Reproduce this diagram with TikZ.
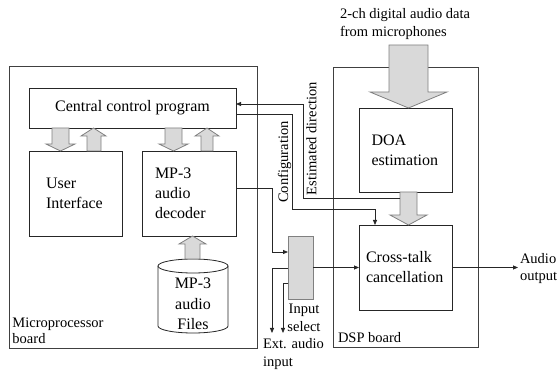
\documentclass[tikz,border=0pt]{standalone}
\usepackage{fontspec}
\setmainfont{Liberation Serif}
\usetikzlibrary{arrows.meta}
\begin{document}
\begin{tikzpicture}[x=1pt,y=-1pt,
  box/.style={draw=black!85, line width=0.8pt, fill=white, inner sep=0pt, outer sep=0pt, anchor=north west, font=\fontsize{16}{20}\selectfont},
  board/.style={draw=black!75, line width=0.8pt, inner sep=0pt, outer sep=0pt, anchor=north west},
  lbl/.style={inner sep=0pt, outer sep=0pt, font=\fontsize{14.5}{18}\selectfont},
  blk/.style={draw=black!50, fill=black!15, line width=0.8pt, line join=miter},
  conn/.style={draw=black!85, line width=0.8pt},
  arr/.style={conn, -{Triangle[length=5pt,width=4pt]}},
]
\useasboundingbox (0,0) rectangle (557,371);

% boards
\node[board, minimum width=248pt, minimum height=282pt] (mpb) at (9,66) {};
\node[board, minimum width=145pt, minimum height=280pt] (dsp) at (333,67) {};

% boxes
\node[box, minimum width=207pt, minimum height=40pt] (ccp) at (29,88) {Central control program};
\node[box, minimum width=93pt, minimum height=85pt, inner xsep=17pt, text width=59pt, align=left] (ui) at (29,151) {User\\Interface};
\node[box, minimum width=94pt, minimum height=85pt, inner xsep=13pt, text width=68pt, align=left] (dec) at (142,151) {MP-3\\audio\\decoder};
\node[box, minimum width=93pt, minimum height=84pt, inner xsep=12.5pt, text width=68pt, align=left] (doa) at (359,108) {DOA\\estimation};
\node[box, minimum width=93pt, minimum height=85pt, inner xsep=7pt, text width=79pt, align=left] (ctc) at (359,225) {Cross-talk\\cancellation};
\node[blk, anchor=north west, inner sep=0pt, outer sep=0pt, minimum width=25pt, minimum height=63pt] (insel) at (288,236) {};

% cylinder of files
\draw[draw=black!85, line width=0.8pt, fill=white] (158,266) -- (158,326) arc[start angle=180, end angle=360, x radius=35pt, y radius=7pt] -- (228,266);
\draw[draw=black!85, line width=0.8pt, fill=white] (193,266) ellipse [x radius=35pt, y radius=7pt];
\node[inner sep=0pt, align=center, font=\fontsize{16}{20.5}\selectfont] (files) at (193,304) {MP-3\\audio\\Files};
\coordinate (filestop) at (193,259);

% block arrows
\draw[blk] (52,128) -- (69,128) -- (69,144) -- (75,144) -- (60.5,151) -- (46,144) -- (52,144) -- cycle;
\draw[blk] (87,151) -- (101,151) -- (101,136) -- (106,136) -- (93.5,128) -- (81,136) -- (87,136) -- cycle;
\draw[blk] (165,128) -- (182,128) -- (182,144) -- (188,144) -- (173.5,151) -- (159,144) -- (165,144) -- cycle;
\draw[blk] (201,151) -- (213,151) -- (213,136) -- (219,136) -- (207,128) -- (195,136) -- (201,136) -- cycle;
\draw[blk] (185,259) -- (200,259) -- (200,244) -- (206,244) -- (192.5,236) -- (179,244) -- (185,244) -- cycle;
\draw[blk] (389,45) -- (428,45) -- (428,92) -- (447,92) -- (408.5,108) -- (370,92) -- (389,92) -- cycle;
\draw[blk] (400,192) -- (417,192) -- (417,215) -- (427,215) -- (408.5,225) -- (390,215) -- (400,215) -- cycle;
\coordinate (shaftL) at (400,198);

% connectors
\draw[arr] (shaftL) -| (303,104) -- ([yshift=4pt]ccp.east);
\draw[arr] ([yshift=-6pt]ccp.east) -| (292,209) -| ([xshift=-30.5pt]ctc.north);
\draw[arr] ([yshift=5.5pt]dec.east) -| (272,252) -- ([yshift=15.5pt]insel.west);
\coordinate (ext1) at (272,333);
\coordinate (ext2) at (283,333);
\draw[arr] ([yshift=-0.5pt]insel.west) -| (ext1);
\draw[arr] ([yshift=-15.5pt]insel.west) -| (ext2);
\draw[arr] (insel.east) -- (insel.east -| ctc.west);
\coordinate (aout) at (518,267.5);
\draw[arr] (ctc.east) -- (aout);

% labels
\node[lbl, anchor=west, align=left] (mic) at (340,24) {2-ch digital audio data\\from microphones};
\node[lbl, anchor=west, align=left, font=\fontsize{14.5}{16}\selectfont] (mpblbl) at (12.5,331) {Microprocessor\\board};
\node[lbl, anchor=west] (dsplbl) at (338,338) {DSP board};
\node[lbl, align=center] (insellbl) at (304,317.5) {Input\\select};
\node[lbl, anchor=west, align=left] (ext) at (263,354) {Ext. audio\\input};
\node[lbl, anchor=west, align=left, font=\fontsize{14.5}{17}\selectfont] (audio) at (520,268.5) {Audio\\output};
\node[lbl, rotate=90] (cfg) at (284.5,162) {Configuration};
\node[lbl, rotate=90] (est) at (311.5,138.5) {Estimated direction};
\end{tikzpicture}
\end{document}
